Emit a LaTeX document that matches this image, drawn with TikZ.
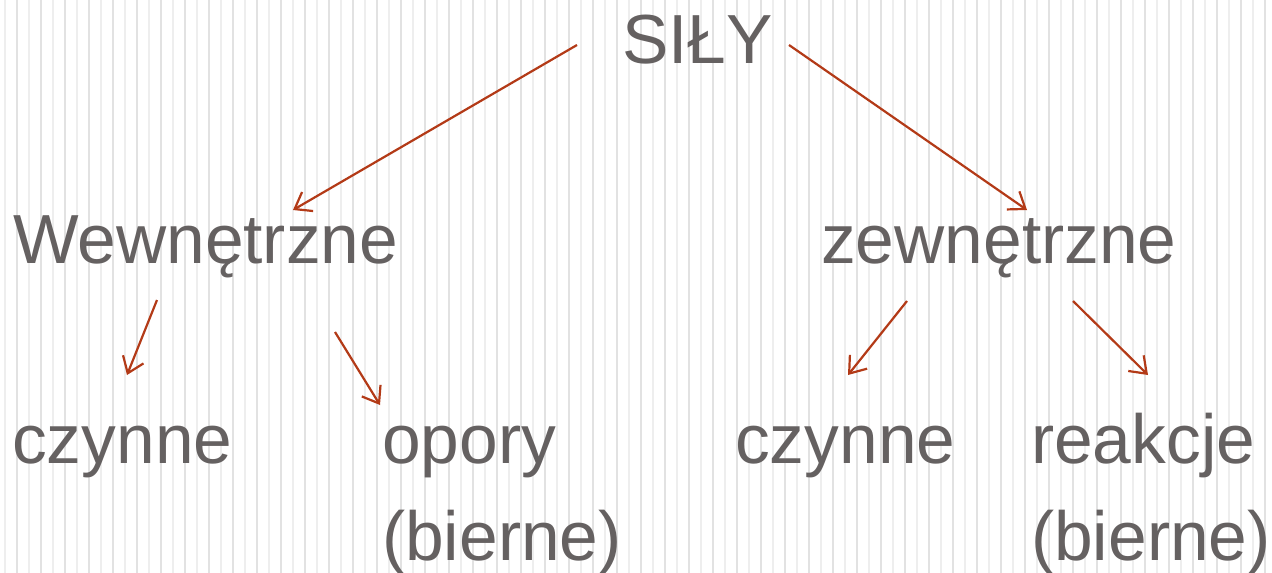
\documentclass[tikz,border=0pt]{standalone}
\usepackage{fontspec}
\setmainfont{Liberation Sans}
\usetikzlibrary{arrows.meta}
\definecolor{txtgray}{HTML}{656161}
\definecolor{arrowred}{HTML}{B33A17}
\definecolor{stripeA}{HTML}{EEEEEE}
\definecolor{stripeB}{HTML}{E2E2E2}
\tikzset{
  lbl/.style={inner sep=0pt, anchor=base west, text=txtgray, font=\fontsize{69.5}{97}\selectfont, align=left},
  conn/.style={draw=arrowred, line width=2.2pt, -{Straight Barb[length=15pt,width=22pt,line width=2.2pt]}}
}
\begin{document}
\begin{tikzpicture}[x=1pt,y=-1pt]
\useasboundingbox (0,0) rectangle (1272,573);
\fill[white] (0,0) rectangle (1272,573);
\foreach \i in {0,...,52}{
  \draw[stripeA, line width=1.2pt] ({5+24*\i},0) -- ({5+24*\i},573);
  \draw[stripeB, line width=1.8pt] ({17+24*\i},0) -- ({17+24*\i},573);
}
\node[lbl] (sily) at (622,63) {SIŁY};
\node[lbl] (wew) at (13,263) {Wewnętrzne};
\node[lbl] (zew) at (821,263) {zewnętrzne};
\node[lbl] (czl) at (12,463) {czynne};
\node[lbl] (opory) at (382,560) {opory\\(bierne)};
\node[lbl] (czr) at (735,463) {czynne};
\node[lbl] (reak) at (1031,560) {reakcje\\(bierne)};
\coordinate (s1) at (577,45);
\coordinate (s2) at (789,45);
\coordinate (w0) at (293,210);
\coordinate (z0) at (1027,210);
\coordinate (w1) at (157,300);
\coordinate (w2) at (335,332);
\coordinate (z1) at (907,301);
\coordinate (z2) at (1073,301);
\coordinate (c1) at (127,375);
\coordinate (o1) at (380,405);
\coordinate (c2) at (848,375);
\coordinate (r1) at (1148,375);
\draw[conn] (s1) -- (w0);
\draw[conn] (s2) -- (z0);
\draw[conn] (w1) -- (c1);
\draw[conn] (w2) -- (o1);
\draw[conn] (z1) -- (c2);
\draw[conn] (z2) -- (r1);
\end{tikzpicture}
\end{document}
